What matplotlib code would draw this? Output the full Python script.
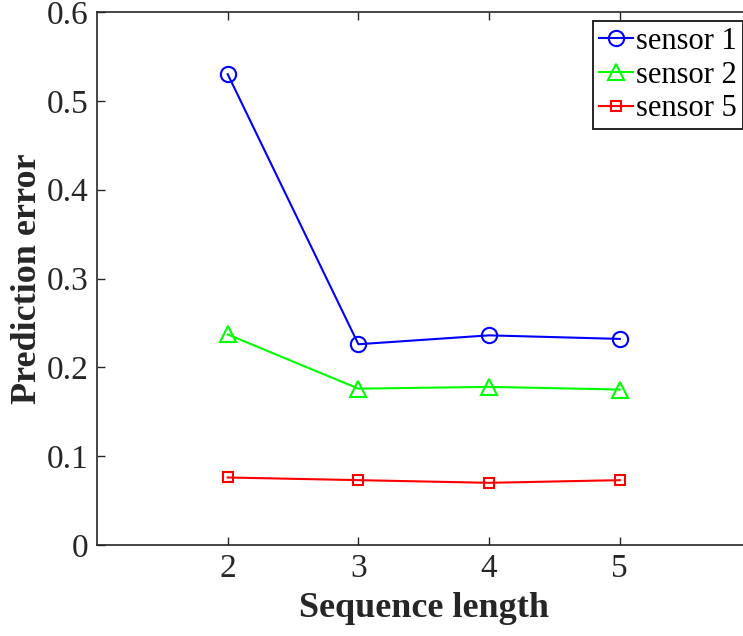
import matplotlib.pyplot as plt
import matplotlib

matplotlib.rcParams['font.family'] = ['Liberation Serif', 'DejaVu Serif']
matplotlib.rcParams['mathtext.fontset'] = 'stix'

# data ----
seq_len = [2, 3, 4, 5]
sensor1 = [0.530, 0.226, 0.236, 0.232]
sensor2 = [0.237, 0.176, 0.178, 0.175]
sensor5 = [0.076, 0.073, 0.070, 0.073]
xticks = [2, 3, 4, 5]
yticks = [0, 0.1, 0.2, 0.3, 0.4, 0.5, 0.6]
ytick_labels = ['0', '0.1', '0.2', '0.3', '0.4', '0.5', '0.6']
# ---------

fig = plt.figure(figsize=(7.43, 6.36), dpi=100)
ax = fig.add_axes([97/743, 91/636, 653.5/743, 533/636])

ax.plot(seq_len, sensor1, "-o", color="#0000ff", lw=1.5, ms=11, mfc="none", mew=1.5, label="sensor 1")
ax.plot(seq_len, sensor2, "-^", color="#00ff00", lw=1.5, ms=11, mfc="none", mew=1.5, label="sensor 2")
ax.plot(seq_len, sensor5, "-s", color="#ff0000", lw=1.5, ms=7.5, mfc="none", mew=1.5, label="sensor 5")

ax.set_xlim(1, 6)
ax.set_ylim(0, 0.6)
ax.set_xticks(xticks)
ax.set_yticks(yticks)
ax.set_yticklabels(ytick_labels)
ax.tick_params(direction="in", top=True, right=True, labelsize=24, length=6, width=1, colors="#262626", pad=6)
for sp in ax.spines.values():
    sp.set_linewidth(1.2)
    sp.set_color("#262626")

ax.set_xlabel("Sequence length", fontsize=26, fontweight="bold", labelpad=6, color="#262626")
ax.set_ylabel("Prediction error", fontsize=26, fontweight="bold", labelpad=2, color="#262626")

leg = ax.legend(loc="upper left", bbox_to_anchor=(593/743, 1 - 21/636), bbox_transform=fig.transFigure,
                fontsize=22, fancybox=False, framealpha=1, edgecolor="#262626",
                handlelength=1.1, handletextpad=0.1, borderpad=0.2, labelspacing=0.15,
                borderaxespad=0, handleheight=0.7)
leg.get_frame().set_linewidth(1.4)

plt.savefig("out.png", dpi=100)
